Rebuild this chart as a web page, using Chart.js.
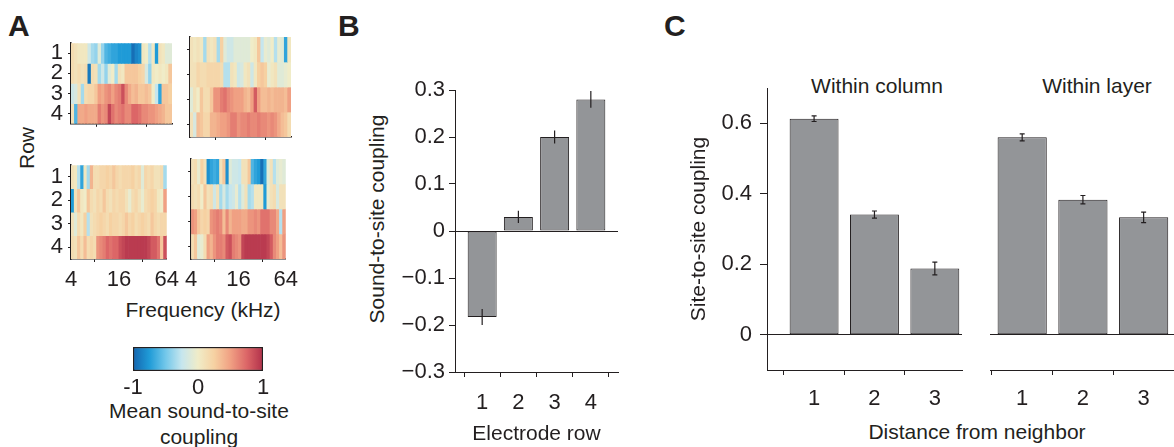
<!DOCTYPE html>
<html>
<head>
<meta charset="utf-8">
<script src="https://cdn.jsdelivr.net/npm/chart.js@4.4.1/dist/chart.umd.min.js"></script>
<style>
  body { margin: 0; background: #fff; }
  #fig { position: relative; width: 1174px; height: 447px; overflow: hidden;
         font-family: Arial, "Liberation Sans", sans-serif; color: #231f20; }
  #fig canvas { position: absolute; }
  .lbl { position: absolute; white-space: nowrap; font-size: 21px; line-height: 24px; }
  .ctr { transform: translate(-50%, -50%); }
  .rot { transform: translate(-50%, -50%) rotate(-90deg); }
  .panel { position: absolute; font-weight: bold; font-size: 30px; line-height: 30px; }
</style>
</head>
<body>
<div id="fig">
  <div class="panel" style="left:8px; top:11px;">A</div>
  <div class="panel" style="left:338px; top:11px;">B</div>
  <div class="panel" style="left:664px; top:11px;">C</div>

  <div class="lbl rot" style="left:27px; top:148px;">Row</div>
  <div class="lbl ctr" style="left:203px; top:310px;">Frequency (kHz)</div>
  <div class="lbl ctr" style="left:199px; top:411px;">Mean sound-to-site</div>
  <div class="lbl ctr" style="left:199px; top:437px;">coupling</div>

  <div class="lbl rot" style="left:377px; top:219px;">Sound-to-site coupling</div>

  <div class="lbl ctr" style="left:877px; top:86px;">Within column</div>
  <div class="lbl ctr" style="left:1097px; top:86px;">Within layer</div>
  <div class="lbl ctr" style="left:977px; top:432px;">Distance from neighbor</div>
</div>

<script>
// panel A: electrode rows x frequency bins (4-64 kHz), rows top to bottom
var rowLabels = [1, 2, 3, 4];
var freqTicks = [4, 16, 64];

var heatTopLeft = [
  [0.15,0.1,0.05,0.05,0.05,-0.2,-0.35,-0.4,-0.1,-0.4,-0.6,-0.65,-0.7,-0.7,-0.75,-0.75,-0.75,-0.75,-0.95,-0.85,-0.8,0.05,0.0,-0.3,0.05,-0.75,0.1,0.05,-0.1,-0.1],
  [0.15,0.1,0.15,0.1,0.15,-0.9,0.15,0.1,-0.35,-0.2,-0.4,-0.1,0.0,-0.35,0.1,0.05,0.3,0.3,0.3,0.3,0.25,0.2,-0.15,-0.4,0.05,0.0,0.05,0.0,0.05,0.3],
  [-0.2,-0.15,0.1,-0.35,0.15,0.2,0.2,0.3,0.5,0.45,0.55,0.6,0.5,0.6,0.65,0.85,0.6,0.45,0.35,0.4,0.3,0.3,0.35,0.3,0.0,-0.25,-0.7,0.3,0.3,0.25],
  [0.1,-0.6,0.45,0.45,0.5,0.45,0.45,0.45,0.65,0.55,0.6,0.9,0.7,0.6,0.65,0.7,0.6,0.6,0.75,0.75,0.7,0.6,0.6,0.55,0.55,0.5,0.45,0.4,0.3,0.3]
];
var heatTopRight = [
  [0.1,0.05,0.1,0.05,-0.35,0.1,0.05,0.1,-0.35,0.25,-0.1,-0.2,-0.2,-0.1,-0.1,-0.1,-0.1,-0.1,0.0,0.05,0.3,-0.25,-0.05,-0.1,0.0,-0.3,-0.05,-0.1,-0.7,0.05],
  [0.1,0.1,0.2,0.15,0.15,0.2,0.2,0.2,0.2,0.15,-0.3,-0.3,0.1,0.05,-0.2,-0.15,0.05,0.1,-0.2,0.05,0.25,0.3,0.25,-0.05,0.05,0.1,-0.1,-0.1,-0.05,0.0],
  [-0.1,0.1,0.0,0.3,0.15,0.15,0.3,0.55,0.55,0.65,0.7,0.6,0.55,0.5,0.5,0.5,0.4,0.35,0.5,0.8,0.5,0.35,0.35,0.4,0.35,0.4,0.4,0.4,0.35,0.5],
  [0.1,-0.15,0.35,0.3,0.2,0.2,0.4,0.4,0.45,0.5,0.5,0.55,0.65,0.65,0.55,0.6,0.6,0.65,0.6,0.6,0.65,0.6,0.6,0.55,0.6,0.55,0.45,0.35,0.3,0.15]
];
var heatBottomLeft = [
  [0.1,0.05,-0.3,-0.7,0.05,-0.35,0.4,0.15,0.15,0.2,0.2,0.25,0.2,0.3,0.2,0.15,0.2,0.2,0.2,0.25,0.15,0.2,-0.1,0.2,0.15,0.2,0.1,0.1,0.15,-0.35],
  [-0.75,0.1,0.3,0.05,0.0,0.3,0.15,0.1,0.2,0.15,0.3,0.15,0.1,0.2,0.15,0.2,0.2,0.1,-0.05,0.15,0.2,0.1,-0.05,0.15,0.2,0.25,0.2,0.05,0.0,0.5],
  [0.1,-0.1,0.15,0.05,0.25,-0.3,0.1,0.15,0.2,0.25,0.2,0.15,0.25,0.2,0.2,0.15,0.2,0.3,0.2,0.25,0.15,0.2,0.25,0.2,0.15,0.3,0.2,0.15,0.2,0.2],
  [0.15,0.1,0.3,0.15,0.35,0.15,0.2,0.15,0.55,0.6,0.65,0.75,0.7,0.75,0.75,0.85,0.9,0.95,0.95,0.95,0.95,0.95,0.95,0.95,0.9,0.8,0.8,0.7,0.3,0.85]
];
var heatBottomRight = [
  [0.1,0.15,-0.05,0.25,0.1,-0.8,-0.7,-0.65,-0.7,0.1,0.3,-0.8,-0.1,-0.2,-0.2,-0.25,0.1,0.1,0.3,-0.6,-0.7,-0.75,-0.95,-0.7,-0.1,0.1,-0.3,-0.1,-0.05,-0.1],
  [0.15,0.1,0.15,0.0,0.3,0.1,0.15,-0.2,0.1,-0.35,-0.15,-0.35,-0.25,-0.2,-0.05,-0.3,-0.1,0.1,-0.35,-0.3,0.05,0.05,0.05,-0.75,-0.05,0.1,0.15,-0.15,0.1,0.1],
  [0.55,0.5,0.3,0.2,0.25,0.2,0.55,0.6,0.65,0.6,0.35,0.6,0.4,0.5,0.5,0.5,0.45,0.45,0.55,0.55,0.6,0.55,0.7,0.7,0.7,0.6,0.6,0.45,-0.3,0.5],
  [0.15,0.3,-0.1,-0.05,0.15,0.5,0.4,0.55,0.65,0.65,0.6,0.8,0.85,0.65,0.6,0.55,0.9,0.95,0.95,0.95,0.95,0.95,0.95,0.95,0.9,0.8,0.6,0.5,0.35,0.55]
];
var colorbarTicks = [-1, 0, 1];

// panel B
var electrodeRows = [1, 2, 3, 4];
var rowCoupling = [-0.183, 0.03, 0.2, 0.28];
var rowCouplingErr = [0.017, 0.013, 0.014, 0.018];
var rowTicks = [-0.3, -0.2, -0.1, 0, 0.1, 0.2, 0.3];

// panel C
var distances = [1, 2, 3];
var columnCoupling = [0.613, 0.341, 0.188];
var columnErr = [0.008, 0.01, 0.018];
var layerCoupling = [0.56, 0.383, 0.333];
var layerErr = [0.01, 0.012, 0.015];
var siteTicks = [0, 0.2, 0.4, 0.6];

var ink = "#231f20";
var barFill = "#939598";
var tickSize = 22;
var titleSize = 21;
var cmap = [
  [-1, "#1464ae"], [-0.75, "#1f9bd7"], [-0.5, "#72c7ea"], [-0.25, "#c6e6ee"],
  [0, "#f0ecc8"], [0.25, "#f6d1a2"], [0.5, "#f0a083"], [0.75, "#dc6667"], [1, "#b1304a"]
];

Chart.defaults.font.family = 'Arial, "Liberation Sans", sans-serif';
Chart.defaults.color = ink;
Chart.defaults.animation = false;
Chart.defaults.responsive = false;
Chart.defaults.plugins.legend.display = false;
Chart.defaults.plugins.tooltip.enabled = false;

function hexRgb(h) {
  return [parseInt(h.substr(1, 2), 16), parseInt(h.substr(3, 2), 16), parseInt(h.substr(5, 2), 16)];
}

// value in [-1, 1] -> colour
function heatColor(v) {
  for (var i = 1; i < cmap.length; i++) {
    if (v <= cmap[i][0]) {
      var a = cmap[i - 1], b = cmap[i];
      var t = (v - a[0]) / (b[0] - a[0]);
      var ca = hexRgb(a[1]), cb = hexRgb(b[1]);
      var c = ca.map(function (x, k) { return Math.round(x + (cb[k] - x) * t); });
      return "rgb(" + c.join(",") + ")";
    }
  }
  return cmap[cmap.length - 1][1];
}

function addCanvas(left, top, w, h) {
  var cv = document.createElement("canvas");
  cv.width = w;
  cv.height = h;
  cv.style.left = left + "px";
  cv.style.top = top + "px";
  cv.style.width = w + "px";
  cv.style.height = h + "px";
  document.getElementById("fig").appendChild(cv);
  return cv;
}

function drawHeatmap(rows, left, top, w, h, showY, showX) {
  var cv = addCanvas(left, top, w, h);
  var nBins = rows[0].length;
  var datasets = rows.map(function (vals, r) {
    return {
      data: vals.map(function (v, c) {
        return { x: c + 0.5, y: [rowLabels[r] - 0.5, rowLabels[r] + 0.5] };
      }),
      backgroundColor: vals.map(heatColor),
      borderWidth: 0,
      grouped: false,
      barPercentage: 1,
      categoryPercentage: 1
    };
  });
  new Chart(cv, {
    type: "bar",
    data: { datasets: datasets },
    options: {
      layout: { padding: { top: 12, right: 12, left: 0, bottom: 0 } },
      scales: {
        x: {
          type: "linear", min: 0, max: nBins, offset: false,
          afterBuildTicks: function (s) {
            s.ticks = freqTicks.map(function (f) { return { value: (Math.log2(f) - 2) / 4 * nBins }; });
          },
          ticks: { display: showX, autoSkip: false, maxRotation: 0, padding: 5, font: { size: tickSize },
                   callback: function (v, i) { return freqTicks[i]; } },
          grid: { drawOnChartArea: false, tickLength: 3, tickColor: ink },
          border: { color: ink, width: 1.5 },
          afterFit: function (s) { s.height = showX ? 34 : 5; }
        },
        y: {
          type: "linear", min: 0.5, max: 4.5, reverse: true,
          afterBuildTicks: function (s) {
            s.ticks = rowLabels.map(function (v) { return { value: v }; });
          },
          ticks: { display: showY, autoSkip: false, padding: 5, font: { size: tickSize } },
          grid: { drawOnChartArea: false, tickLength: 3, tickColor: ink },
          border: { color: ink, width: 1.5 },
          afterFit: function (s) { s.width = showY ? 33 : 10; }
        }
      }
    }
  });
}

drawHeatmap(heatTopLeft, 38, 25, 146, 117, true, false);
drawHeatmap(heatTopRight, 180, 25, 123, 117, false, false);
drawHeatmap(heatBottomLeft, 38, 147, 146, 146, true, true);
drawHeatmap(heatBottomRight, 180, 147, 123, 146, false, true);

// colour bar
new Chart(addCanvas(100, 335, 200, 70), {
  type: "bar",
  data: {
    labels: [""],
    datasets: [{
      data: [[colorbarTicks[0], colorbarTicks[2]]],
      backgroundColor: function (ctx) {
        var a = ctx.chart.chartArea;
        if (!a) return null;
        var g = ctx.chart.ctx.createLinearGradient(a.left, 0, a.right, 0);
        cmap.forEach(function (s) { g.addColorStop((s[0] + 1) / 2, s[1]); });
        return g;
      },
      borderColor: ink,
      borderWidth: 1.5,
      borderSkipped: false,
      barPercentage: 1,
      categoryPercentage: 1
    }]
  },
  options: {
    indexAxis: "y",
    layout: { padding: { left: 33, right: 37, top: 12, bottom: 0 } },
    scales: {
      y: { display: false },
      x: {
        type: "linear", min: -1, max: 1,
        afterBuildTicks: function (s) {
          s.ticks = colorbarTicks.map(function (v) { return { value: v }; });
        },
        ticks: { autoSkip: false, padding: 4, font: { size: tickSize }, maxRotation: 0 },
        grid: { drawOnChartArea: false, drawTicks: false },
        border: { display: false },
        afterFit: function (s) { s.height = 34; }
      }
    }
  }
});

// error bars read from dataset.errors
var errorBars = {
  id: "errorBars",
  afterDatasetsDraw: function (chart) {
    var ctx = chart.ctx, xs = chart.scales.x, ys = chart.scales.y;
    chart.data.datasets.forEach(function (ds) {
      ctx.save();
      ctx.strokeStyle = ink;
      ctx.lineWidth = 1.2;
      ds.data.forEach(function (p, i) {
        var e = ds.errors[i];
        var px = xs.getPixelForValue(p.x);
        var top = ys.getPixelForValue(p.y + e);
        var bot = ys.getPixelForValue(p.y - e);
        ctx.beginPath();
        ctx.moveTo(px, top);
        ctx.lineTo(px, bot);
        if (ds.cap) {
          ctx.moveTo(px - ds.cap, top); ctx.lineTo(px + ds.cap, top);
          ctx.moveTo(px - ds.cap, bot); ctx.lineTo(px + ds.cap, bot);
        }
        ctx.stroke();
      });
      ctx.restore();
    });
  }
};

function zeroLine(ctx) {
  return ctx.tick && ctx.tick.value === 0 ? ink : "rgba(0,0,0,0)";
}

// panel B
new Chart(addCanvas(360, 60, 270, 387), {
  type: "bar",
  data: {
    datasets: [{
      data: electrodeRows.map(function (r, i) { return { x: r, y: rowCoupling[i] }; }),
      errors: rowCouplingErr,
      cap: 0,
      backgroundColor: barFill,
      borderColor: ink,
      borderWidth: 1,
      borderSkipped: false,
      barPercentage: 0.8,
      categoryPercentage: 1
    }]
  },
  options: {
    layout: { padding: { left: 0, top: 30, right: 12, bottom: 0 } },
    scales: {
      x: {
        type: "linear", min: 0.25, max: 4.75, offset: false,
        afterBuildTicks: function (s) {
          s.ticks = electrodeRows.map(function (v) { return { value: v }; });
        },
        ticks: { autoSkip: false, maxRotation: 0, padding: 13, font: { size: tickSize } },
        grid: { drawOnChartArea: false, tickLength: 5, tickColor: ink },
        border: { color: ink, width: 1 },
        title: { display: true, text: "Electrode row", font: { size: titleSize }, padding: 0 },
        afterFit: function (s) { s.height = 75; }
      },
      y: {
        min: -0.3, max: 0.3,
        afterBuildTicks: function (s) {
          s.ticks = rowTicks.map(function (v) { return { value: v }; });
        },
        ticks: { autoSkip: false, padding: 4, font: { size: tickSize },
                 callback: function (v) { return v === 0 ? "0" : (v < 0 ? "\u2212" : "") + Math.abs(v).toFixed(1); } },
        grid: { color: zeroLine, lineWidth: 1, tickLength: 6, tickColor: ink },
        border: { color: ink, width: 1 },
        afterFit: function (s) { s.width = 95; }
      }
    }
  },
  plugins: [errorBars]
});

// panel C
function couplingChart(left, w, values, errs, xmin, xmax, withAxis) {
  new Chart(addCanvas(left, 60, w, 387), {
    type: "bar",
    data: {
      datasets: [{
        data: distances.map(function (d, i) { return { x: d, y: values[i] }; }),
        errors: errs,
        cap: 2.5,
        backgroundColor: barFill,
        borderColor: ink,
        borderWidth: 1,
        borderSkipped: false,
        barPercentage: 0.81,
        categoryPercentage: 1
      }]
    },
    options: {
      layout: { padding: { left: withAxis ? 0 : 5, top: 28, right: withAxis ? 8 : 0, bottom: 0 } },
      scales: {
        x: {
          type: "linear", min: xmin, max: xmax, offset: false,
          afterBuildTicks: function (s) {
            s.ticks = distances.map(function (v) { return { value: v }; });
          },
          ticks: { autoSkip: false, maxRotation: 0, padding: 11, font: { size: tickSize } },
          grid: { drawOnChartArea: false, tickLength: 5, tickColor: ink },
          border: { color: ink, width: 1 },
          afterFit: function (s) { s.height = 77; }
        },
        y: {
          min: -0.1, max: 0.7,
          afterBuildTicks: function (s) {
            s.ticks = siteTicks.map(function (v) { return { value: v }; });
          },
          ticks: { display: withAxis, autoSkip: false, padding: 8, font: { size: tickSize },
                   callback: function (v) { return v === 0 ? "0" : v.toFixed(1); } },
          grid: { color: zeroLine, lineWidth: 1, drawTicks: withAxis, tickLength: 7, tickColor: ink },
          border: { display: withAxis, color: ink, width: 1 },
          title: { display: withAxis, text: "Site-to-site coupling", font: { size: titleSize },
                   padding: { top: 7, bottom: 0 } },
          afterFit: function (s) { s.width = withAxis ? 87 : 0; }
        }
      }
    },
    plugins: [errorBars]
  });
}

couplingChart(680, 290, columnCoupling, columnErr, 0.22, 3.45, true);
couplingChart(985, 189, layerCoupling, layerErr, 0.47, 3.5, false);
</script>
</body>
</html>
